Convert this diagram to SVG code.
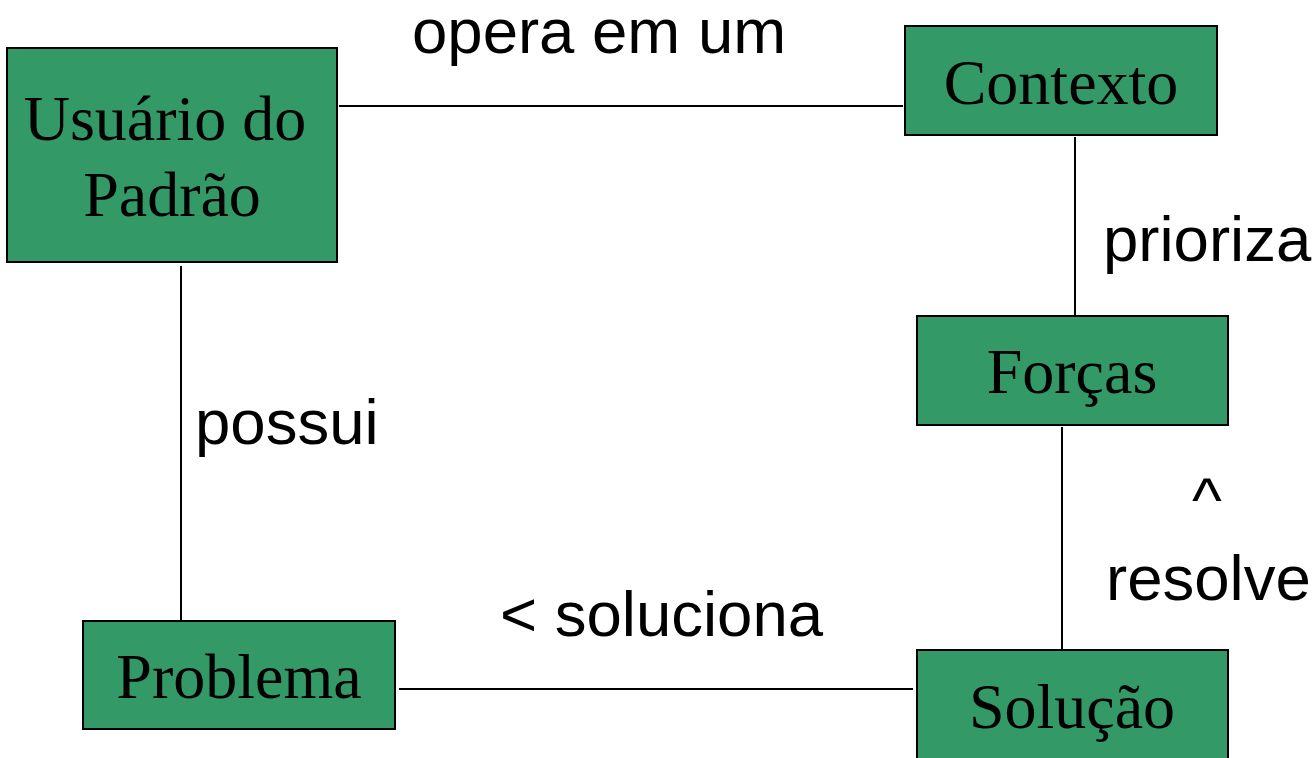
<svg xmlns="http://www.w3.org/2000/svg" width="1316" height="758" viewBox="0 0 1316 758">
<style>
.box{fill:#339966;stroke:#000;stroke-width:2}
.bt{font-family:"Liberation Sans",sans-serif;font-family:"Liberation Serif",serif;font-size:64px;fill:#000;text-anchor:middle}
.lbl{font-family:"Liberation Sans",sans-serif;font-size:63.5px;fill:#000}
.con line{stroke:#000;stroke-width:2}
</style>
<rect width="1316" height="758" fill="#fff"/>
<g class="con" id="connectors">
<line x1="339" y1="106" x2="903" y2="106"/>
<line x1="1075" y1="137" x2="1075" y2="320"/>
<line x1="1062" y1="427" x2="1062" y2="650"/>
<line x1="181" y1="266" x2="181" y2="623"/>
<line x1="399" y1="689" x2="913" y2="689"/>
</g>
<g id="usuario"><rect class="box" x="7" y="48" width="330" height="214"/><text class="bt" x="165" y="140">Usuário do</text><text class="bt" x="172" y="216">Padrão</text></g>
<g id="contexto"><rect class="box" x="905" y="26" width="312" height="109"/><text class="bt" x="1061" y="104">Contexto</text></g>
<g id="forcas"><rect class="box" x="917" y="316" width="311" height="109"/><text class="bt" x="1072" y="393">Forças</text></g>
<g id="problema"><rect class="box" x="83" y="621" width="312" height="108"/><text class="bt" x="239" y="698">Problema</text></g>
<g id="solucao"><rect class="box" x="917" y="650" width="311" height="120"/><text class="bt" x="1072" y="728">Solução</text></g>
<g id="labels">
<text class="lbl" x="412" y="53">opera em um</text>
<text class="lbl" x="1103" y="261">prioriza</text>
<text class="lbl" x="195" y="444">possui</text>
<text class="lbl" x="1192" y="522">^</text>
<text class="lbl" x="1106" y="600">resolve</text>
<text class="lbl" x="500" y="636">&lt; soluciona</text>
</g>
</svg>
